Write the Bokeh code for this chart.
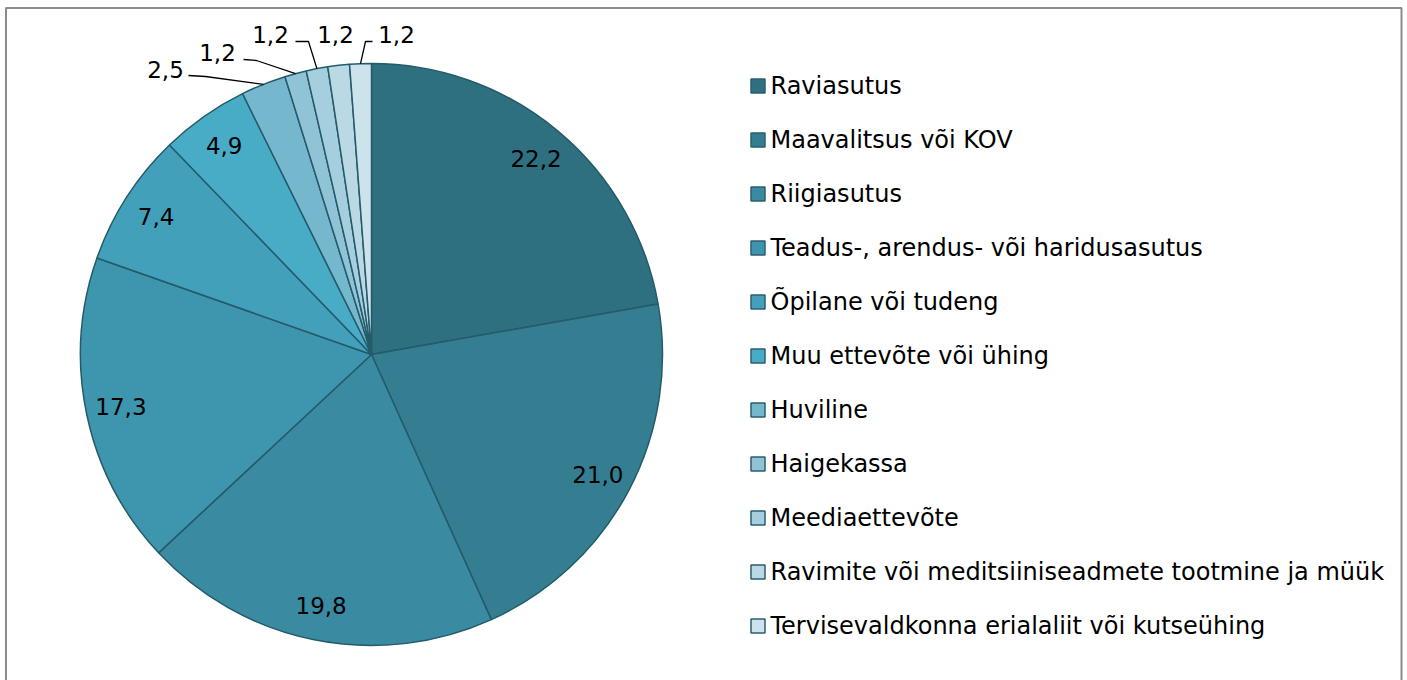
import numpy as np
from bokeh.plotting import figure
from bokeh.models import Range1d, ColumnDataSource
from bokeh.core.properties import value
from bokeh.embed import file_html
from bokeh.resources import INLINE

categories = ["Raviasutus", "Maavalitsus või KOV", "Riigiasutus",
              "Teadus-, arendus- või haridusasutus", "Õpilane või tudeng",
              "Muu ettevõte või ühing", "Huviline", "Haigekassa",
              "Meediaettevõte", "Ravimite või meditsiiniseadmete tootmine ja müük",
              "Tervisevaldkonna erialaliit või kutseühing"]
values = [22.2, 21.0, 19.8, 17.3, 7.4, 4.9, 2.5, 1.2, 1.2, 1.2, 1.2]
labels = ["22,2", "21,0", "19,8", "17,3", "7,4", "4,9", "2,5", "1,2", "1,2", "1,2", "1,2"]
colors = ["#2E6F80", "#357E92", "#3A8AA2", "#3E95AE", "#43A0BB", "#49ACC7",
          "#75B8CD", "#8FC3D5", "#A5CFDE", "#BAD9E5", "#CDE3EB"]

W, H = 1407, 680
FONT = value("DejaVu Sans")

def fx(x):
    return x

def fy(y):
    return H - y

p = figure(width=W, height=H, output_backend="svg", toolbar_location=None,
           x_range=Range1d(0, W), y_range=Range1d(0, H),
           x_axis_type=None, y_axis_type=None, min_border=0)
p.grid.visible = False
p.outline_line_color = None
p.background_fill_color = "white"
p.border_fill_color = "white"

# chart area border (bottom edge lies below the visible window)
p.quad(left=[fx(5.5)], right=[fx(1401)], top=[fy(7.5)], bottom=[fy(700)],
       fill_color=None, line_color="#8C8C8C", line_width=2)

cx, cy, R = fx(371), fy(354), 291.0
vals = np.array(values, dtype=float)
frac = vals / vals.sum()
cum = np.concatenate([[0], np.cumsum(frac)])
start = np.pi / 2 - 2 * np.pi * cum[:-1]
end = np.pi / 2 - 2 * np.pi * cum[1:]
mid = (start + end) / 2

src = ColumnDataSource(dict(start=start, end=end, color=colors))
p.wedge(x=cx, y=cy, radius=R, start_angle="start", end_angle="end",
        direction="clock", fill_color="color", line_color="#245B6A",
        line_width=1.5, source=src)

# inside labels
n_in = 6
lr = 256
p.text(x=list(cx + lr * np.cos(mid[:n_in])), y=list(cy + lr * np.sin(mid[:n_in])),
       text=labels[:n_in], text_font=FONT, text_font_size="23px",
       text_align="center", text_baseline="middle", text_color="black")

# outside labels (layout positions in page px): text centre, line start, elbow
out_text = [(165, 69), (217, 52), (270, 34), (335, 34), (396, 34)]
out_line = [(188, 75), (243, 59), (295, 41), None, (372, 41)]
out_elbow = [(205, 76), (256, 60), (308, 41), None, (365, 41)]
for k, i in enumerate(range(6, 11)):
    tx, ty = out_text[k]
    p.text(x=[fx(tx)], y=[fy(ty)], text=[labels[i]], text_font=FONT,
           text_font_size="23px", text_align="center", text_baseline="middle",
           text_color="black")
    if out_line[k] is not None:
        ex = cx + R * np.cos(mid[i])
        ey = cy + R * np.sin(mid[i])
        xs = [fx(out_line[k][0]), fx(out_elbow[k][0]), ex]
        ys = [fy(out_line[k][1]), fy(out_elbow[k][1]), ey]
        p.line(xs, ys, line_color="black", line_width=1.3)

# legend
n = len(categories)
ly = [fy(85.5 + 54 * i) for i in range(n)]
p.rect(x=[fx(757.5)] * n, y=ly, width=14, height=14, fill_color=colors,
       line_color="#2B5F6F", line_width=1.5)
p.text(x=[fx(770)] * n, y=ly, text=categories, text_font=FONT,
       text_font_size="24px", text_align="left", text_baseline="middle",
       text_color="black")

open("out.html", "w").write(file_html(p, INLINE))
